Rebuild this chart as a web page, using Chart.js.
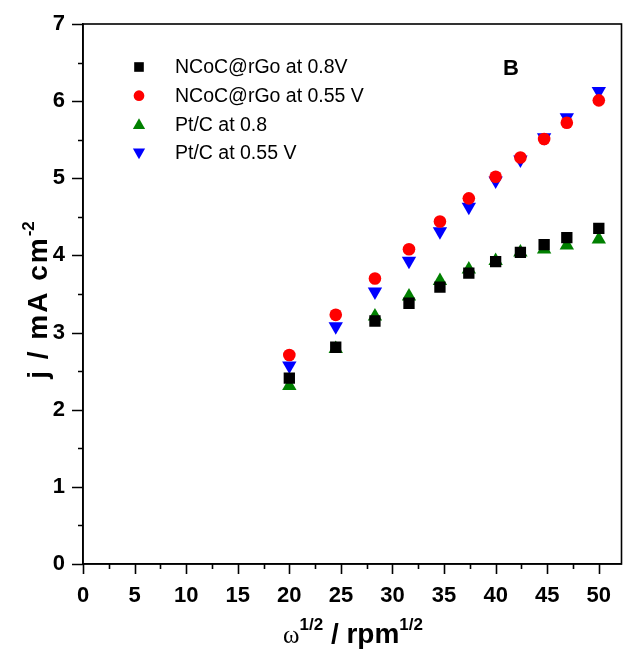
<!DOCTYPE html>
<html><head><meta charset="utf-8">
<script src="https://cdn.jsdelivr.net/npm/chart.js@4/dist/chart.umd.min.js"></script>
<style>html,body{margin:0;padding:0;background:#fff;overflow:hidden}canvas{display:block}</style>
</head><body><canvas id="c" width="623" height="660" style="width:623px;height:660px"></canvas>
<script>
// ---- data ----
const rotationRates = [20, 24.5, 28.3, 31.6, 34.6, 37.4, 40, 42.4, 44.7, 46.9, 50];
const ncocAt08  = [2.41, 2.81, 3.15, 3.38, 3.59, 3.77, 3.92, 4.04, 4.14, 4.23, 4.35];
const ncocAt055 = [2.71, 3.23, 3.70, 4.08, 4.44, 4.74, 5.02, 5.27, 5.51, 5.72, 6.01];
const ptcAt08   = [2.31, 2.79, 3.21, 3.47, 3.67, 3.82, 3.93, 4.04, 4.08, 4.13, 4.21];
const ptcAt055  = [2.57, 3.08, 3.53, 3.93, 4.31, 4.63, 4.97, 5.24, 5.53, 5.79, 6.13];
const seriesNames = ['NCoC@rGo at 0.8V', 'NCoC@rGo at 0.55 V', 'Pt/C at 0.8', 'Pt/C at 0.55 V'];
const xTickLabels = [0, 5, 10, 15, 20, 25, 30, 35, 40, 45, 50];
const yTickLabels = [0, 1, 2, 3, 4, 5, 6, 7];
const panelLabel = 'B';

const FONT = 'Arial, "Liberation Sans", sans-serif';
const pts = ys => rotationRates.map((x, i) => ({x, y: ys[i]}));

const styles = [
  {color: '#000000', pointStyle: 'rect', radius: 8, rotation: 0},
  {color: '#ff0000', pointStyle: 'circle', radius: 6.3, rotation: 0},
  {color: '#008000', pointStyle: 'triangle', radius: 8.3, rotation: 0},
  {color: '#0000ff', pointStyle: 'triangle', radius: 8.3, rotation: 180}
];
const seriesValues = [ncocAt08, ncocAt055, ptcAt08, ptcAt055];

const datasets = seriesValues.map((vals, i) => ({
  label: seriesNames[i],
  data: pts(vals),
  showLine: false,
  pointStyle: styles[i].pointStyle,
  pointRotation: styles[i].rotation,
  pointRadius: styles[i].radius,
  pointHoverRadius: styles[i].radius,
  pointBackgroundColor: styles[i].color,
  pointBorderColor: styles[i].color,
  pointBorderWidth: 0,
  backgroundColor: styles[i].color,
  borderColor: styles[i].color
}));

const decorPlugin = {
  id: 'decor',
  afterDraw(chart) {
    const ctx = chart.ctx;
    const a = chart.chartArea;
    const xs = chart.scales.x, ys = chart.scales.y;
    ctx.save();
    ctx.strokeStyle = '#000';
    ctx.lineWidth = 1.6;
    // frame
    ctx.strokeRect(a.left, a.top, a.right - a.left, a.bottom - a.top);
    // ticks
    ctx.beginPath();
    for (let v = 0; v <= 50.001; v += 2.5) {
      const px = Math.round(xs.getPixelForValue(v)) + 0.5;
      const len = (Math.abs(v % 5) < 1e-6) ? 10 : 5;
      ctx.moveTo(px, a.bottom);
      ctx.lineTo(px, a.bottom + len);
    }
    for (let v = 0; v <= 7.001; v += 0.5) {
      const py = Math.round(ys.getPixelForValue(v)) + 0.5;
      const len = (Math.abs(v % 1) < 1e-6) ? 11 : 5;
      ctx.moveTo(a.left, py);
      ctx.lineTo(a.left - len, py);
    }
    ctx.stroke();

    // legend
    const lx = 139, ly0 = 67, dy = 28.7;
    chart.data.datasets.forEach((ds, i) => {
      const y = ly0 + i * dy;
      ctx.fillStyle = ds.pointBackgroundColor;
      Chart.helpers.drawPoint(ctx, {pointStyle: ds.pointStyle, rotation: ds.pointRotation, radius: ds.pointRadius * 0.85, borderWidth: 0}, lx, y + (ds.pointStyle === 'triangle' ? (ds.pointRotation ? -1 : 1) : 0));
      ctx.fillStyle = '#000';
      ctx.font = '19.5px ' + FONT;
      ctx.textBaseline = 'middle';
      ctx.textAlign = 'left';
      ctx.fillText(ds.label, 175, y + 1);
    });

    // panel label
    ctx.font = 'bold 22px ' + FONT;
    ctx.textAlign = 'center';
    ctx.textBaseline = 'middle';
    ctx.fillStyle = '#000';
    ctx.fillText(panelLabel, 511, 69);

    // x title: ω^{1/2} / rpm^{1/2}
    const segs = [
      {t: 'ω', f: '25px "Liberation Serif", "Times New Roman", serif', dy: 0},
      {t: '1/2', f: 'bold 17px ' + FONT, dy: -13},
      {t: ' / rpm', f: 'bold 28px ' + FONT, dy: 0},
      {t: '1/2', f: 'bold 17px ' + FONT, dy: -13}
    ];
    let tw = 0;
    segs.forEach(s => { ctx.font = s.f; s.w = ctx.measureText(s.t).width; tw += s.w; });
    let cx = 353 - tw / 2;
    const base = 643;
    ctx.textAlign = 'left';
    ctx.textBaseline = 'alphabetic';
    segs.forEach(s => { ctx.font = s.f; ctx.fillText(s.t, cx, base + s.dy); cx += s.w; });

    // y title: j / mA cm^{-2}
    const ysegs = [
      {t: 'j / mA cm', f: 'bold 28px ' + FONT, dy: 0, ls: '2px'},
      {t: '-2', f: 'bold 17px ' + FONT, dy: -13, ls: '0px'}
    ];
    let yw = 0;
    ysegs.forEach(s => { ctx.font = s.f; ctx.letterSpacing = s.ls; s.w = ctx.measureText(s.t).width; yw += s.w; });
    ctx.translate(47, 300);
    ctx.rotate(-Math.PI / 2);
    let yx = -yw / 2;
    ysegs.forEach(s => { ctx.font = s.f; ctx.letterSpacing = s.ls; ctx.fillText(s.t, yx, s.dy); yx += s.w; });
    ctx.letterSpacing = '0px';
    ctx.restore();
  }
};

new Chart(document.getElementById('c'), {
  type: 'scatter',
  data: {datasets},
  options: {
    responsive: false,
    animation: false,
    events: [],
    layout: {autoPadding: false, padding: {top: 24, right: 1.5, left: 0, bottom: 0}},
    plugins: {legend: {display: false}, tooltip: {enabled: false}},
    scales: {
      x: {
        type: 'linear', min: 0, max: 52.2,
        afterFit: s => { s.height = 96; s.paddingLeft = 0; s.paddingRight = 0; },
        afterBuildTicks: s => { s.ticks = xTickLabels.map(v => ({value: v})); },
        ticks: {font: {size: 22, weight: 'bold', family: FONT}, color: '#000', padding: 9, maxRotation: 0, autoSkip: false},
        grid: {display: true, drawOnChartArea: false, drawTicks: true, tickLength: 10, color: 'rgba(0,0,0,0)'},
        border: {display: true, color: '#000', width: 1.6}
      },
      y: {
        type: 'linear', min: 0, max: 7,
        afterFit: s => { s.width = 83; s.paddingTop = 0; s.paddingBottom = 0; },
        afterBuildTicks: s => { s.ticks = yTickLabels.map(v => ({value: v})); },
        ticks: {font: {size: 22, weight: 'bold', family: FONT}, color: '#000', padding: 7, autoSkip: false},
        grid: {display: true, drawOnChartArea: false, drawTicks: true, tickLength: 11, color: 'rgba(0,0,0,0)'},
        border: {display: true, color: '#000', width: 1.6}
      }
    }
  },
  plugins: [decorPlugin]
});
</script></body></html>
